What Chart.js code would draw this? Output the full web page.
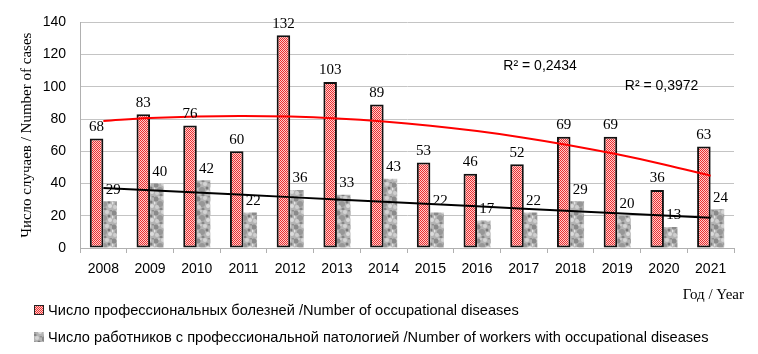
<!DOCTYPE html>
<html lang="ru">
<head>
  <meta charset="UTF-8" />
  <title>Профессиональные болезни 2008-2021</title>
  <script src="https://cdn.jsdelivr.net/npm/chart.js"></script>
  <style>
    body {
      margin: 0;
      padding: 0;
      background: #ffffff;
    }

    #wrap {
      width: 758px;
      height: 354px;
    }
  </style>
</head>
<body>
  <div id="wrap">
    <canvas id="diseaseChart" width="758" height="354"></canvas>
  </div>

  <script>
    const years = ['2008', '2009', '2010', '2011', '2012', '2013', '2014',
                   '2015', '2016', '2017', '2018', '2019', '2020', '2021'];
    const diseases = [68, 83, 76, 60, 132, 103, 89, 53, 46, 52, 69, 69, 36, 63];
    const workers = [29, 40, 42, 22, 36, 33, 43, 22, 17, 22, 29, 20, 13, 24];
    const yTicks = [0, 20, 40, 60, 80, 100, 120, 140];
    const r2Texts = ['R² = 0,2434', 'R² = 0,3972'];
    const seriesNames = [
      'Число профессиональных болезней /Number of occupational diseases',
      'Число работников с профессиональной патологией /Number of workers with occupational diseases'
    ];

    const serif = "'Liberation Serif', 'Times New Roman', serif";
    const sans = "'Liberation Sans', Arial, sans-serif";

    // trend lines (Excel style: linear for workers, poly 2 for diseases)
    function linearFit(ys) {
      const n = ys.length;
      let sx = 0, sy = 0, sxx = 0, sxy = 0;
      ys.forEach((y, x) => { sx += x; sy += y; sxx += x * x; sxy += x * y; });
      const b = (n * sxy - sx * sy) / (n * sxx - sx * sx);
      const a = (sy - b * sx) / n;
      return ys.map((_, x) => a + b * x);
    }

    function quadFit(ys) {
      const n = ys.length;
      let s1 = 0, s2 = 0, s3 = 0, s4 = 0, t0 = 0, t1 = 0, t2 = 0;
      ys.forEach((y, x) => {
        s1 += x; s2 += x * x; s3 += x * x * x; s4 += x * x * x * x;
        t0 += y; t1 += x * y; t2 += x * x * y;
      });
      const det = (m) => m[0][0] * (m[1][1] * m[2][2] - m[1][2] * m[2][1])
                       - m[0][1] * (m[1][0] * m[2][2] - m[1][2] * m[2][0])
                       + m[0][2] * (m[1][0] * m[2][1] - m[1][1] * m[2][0]);
      const M = [[n, s1, s2], [s1, s2, s3], [s2, s3, s4]];
      const T = [t0, t1, t2];
      const D = det(M);
      const coef = [0, 1, 2].map(k => {
        const Mk = M.map((row, i) => row.map((v, j) => (j === k ? T[i] : v)));
        return det(Mk) / D;
      });
      return ys.map((_, x) => coef[0] + coef[1] * x + coef[2] * x * x);
    }

    // fill patterns
    function checkerPattern() {
      const c = document.createElement('canvas');
      c.width = 2; c.height = 2;
      const g = c.getContext('2d');
      g.fillStyle = '#ffcccc';
      g.fillRect(0, 0, 2, 2);
      g.fillStyle = '#ea3030';
      g.fillRect(0, 0, 1, 1);
      g.fillRect(1, 1, 1, 1);
      return g.createPattern(c, 'repeat');
    }

    function marblePattern() {
      const c = document.createElement('canvas');
      c.width = 14; c.height = 14;
      const g = c.getContext('2d');
      g.fillStyle = '#b4b4b4';
      g.fillRect(0, 0, 14, 14);
      // a few blotches, fixed positions so the tile tiles the same every time
      const blots = [
        [2, 3, 2.5, '#8a8a8a'], [9, 2, 2, '#d4d4d4'], [6, 8, 3, '#979797'],
        [12, 10, 2, '#dcdcdc'], [3, 11, 2, '#cfcfcf'], [11, 6, 1.5, '#7a7a7a'],
        [0, 7, 1.5, '#e2e2e2'], [7, 13, 1.5, '#858585'], [5, 1, 1.2, '#c8c8c8'],
        [13, 0, 1.5, '#909090']
      ];
      blots.forEach(([x, y, r, col]) => {
        g.fillStyle = col;
        g.beginPath();
        g.arc(x, y, r, 0, Math.PI * 2);
        g.fill();
      });
      return g.createPattern(c, 'repeat');
    }

    const redFill = checkerPattern();
    const greyFill = marblePattern();

    const extras = {
      id: 'extras',
      afterDatasetsDraw(chart) {
        const ctx = chart.ctx;
        const xs = chart.scales.x, ys = chart.scales.y;
        const area = chart.chartArea;
        ctx.save();

        // values over the bars
        ctx.font = '15px ' + serif;
        ctx.fillStyle = '#000';
        ctx.textAlign = 'center';
        ctx.textBaseline = 'bottom';
        chart.data.datasets.forEach((ds, i) => {
          if (ds.type !== 'bar') return;
          const meta = chart.getDatasetMeta(i);
          meta.data.forEach((bar, j) => {
            const dx = i === 1 ? 3 : 0;
            ctx.fillText(String(ds.data[j]), bar.x + dx, bar.y - 4);
          });
        });

        // R² labels of the trend lines
        ctx.font = '14px ' + sans;
        ctx.textBaseline = 'middle';
        ctx.fillText(r2Texts[0], xs.getPixelForValue(9.35), ys.getPixelForValue(113));
        ctx.fillText(r2Texts[1], xs.getPixelForValue(11.95), ys.getPixelForValue(100.5));

        // x axis caption
        ctx.font = '15px ' + serif;
        ctx.textAlign = 'right';
        ctx.fillText('Год / Year', area.right + 10, area.bottom + 47);

        // legend
        ctx.font = '14.6px ' + sans;
        ctx.textAlign = 'left';
        const fills = [redFill, greyFill];
        [0, 1].forEach(k => {
          const cy = area.bottom + 62 + k * 27;
          ctx.fillStyle = fills[k];
          ctx.fillRect(34, cy - 5, 10, 10);
          if (k === 0) {
            ctx.strokeStyle = '#222';
            ctx.lineWidth = 1;
            ctx.strokeRect(34.5, cy - 4.5, 9, 9);
          }
          ctx.fillStyle = '#000';
          ctx.fillText(seriesNames[k], 48, cy + 1);
        });
        ctx.restore();
      }
    };

    const ctx = document.getElementById('diseaseChart').getContext('2d');
    const chart = new Chart(ctx, {
      data: {
        labels: years,
        datasets: [
          {
            type: 'bar',
            label: seriesNames[0],
            data: diseases,
            backgroundColor: redFill,
            borderColor: '#111',
            borderWidth: 2,
            borderSkipped: false,
            order: 1
          },
          {
            type: 'bar',
            label: seriesNames[1],
            data: workers,
            backgroundColor: greyFill,
            borderWidth: 0,
            order: 1
          },
          {
            type: 'line',
            label: 'trend diseases',
            data: quadFit(diseases),
            borderColor: '#ff0000',
            borderWidth: 2,
            pointRadius: 0,
            tension: 0.4,
            fill: false,
            order: 0
          },
          {
            type: 'line',
            label: 'trend workers',
            data: linearFit(workers),
            borderColor: '#000000',
            borderWidth: 2,
            pointRadius: 0,
            fill: false,
            order: 0
          }
        ]
      },
      plugins: [extras],
      options: {
        responsive: false,
        animation: false,
        layout: {
          padding: { left: 18, right: 24, top: 14, bottom: 0 }
        },
        datasets: {
          bar: {
            categoryPercentage: 0.58,
            barPercentage: 1.0
          }
        },
        plugins: {
          tooltip: { enabled: false },
          legend: { display: false }
        },
        scales: {
          x: {
            offset: true,
            afterFit: (axis) => { axis.height = 106; },
            grid: {
              offset: true,
              drawOnChartArea: false,
              drawTicks: true,
              tickLength: 5,
              color: '#b0b0b0'
            },
            border: { color: '#b0b0b0' },
            ticks: {
              color: '#000',
              font: { family: sans, size: 14 },
              padding: 8
            }
          },
          y: {
            min: 0,
            max: 140,
            afterBuildTicks: (axis) => {
              axis.ticks = yTicks.map(v => ({ value: v }));
            },
            afterFit: (axis) => { axis.width = 62; },
            grid: {
              color: '#c4c4c4',
              drawTicks: false
            },
            border: { color: '#b0b0b0' },
            ticks: {
              color: '#000',
              font: { family: sans, size: 14 },
              padding: 14
            },
            title: {
              display: true,
              text: 'Число случаев / Number of cases',
              color: '#000',
              font: { family: serif, size: 15 },
              padding: { top: 0, bottom: 4 }
            }
          }
        }
      }
    });
  </script>
</body>
</html>
